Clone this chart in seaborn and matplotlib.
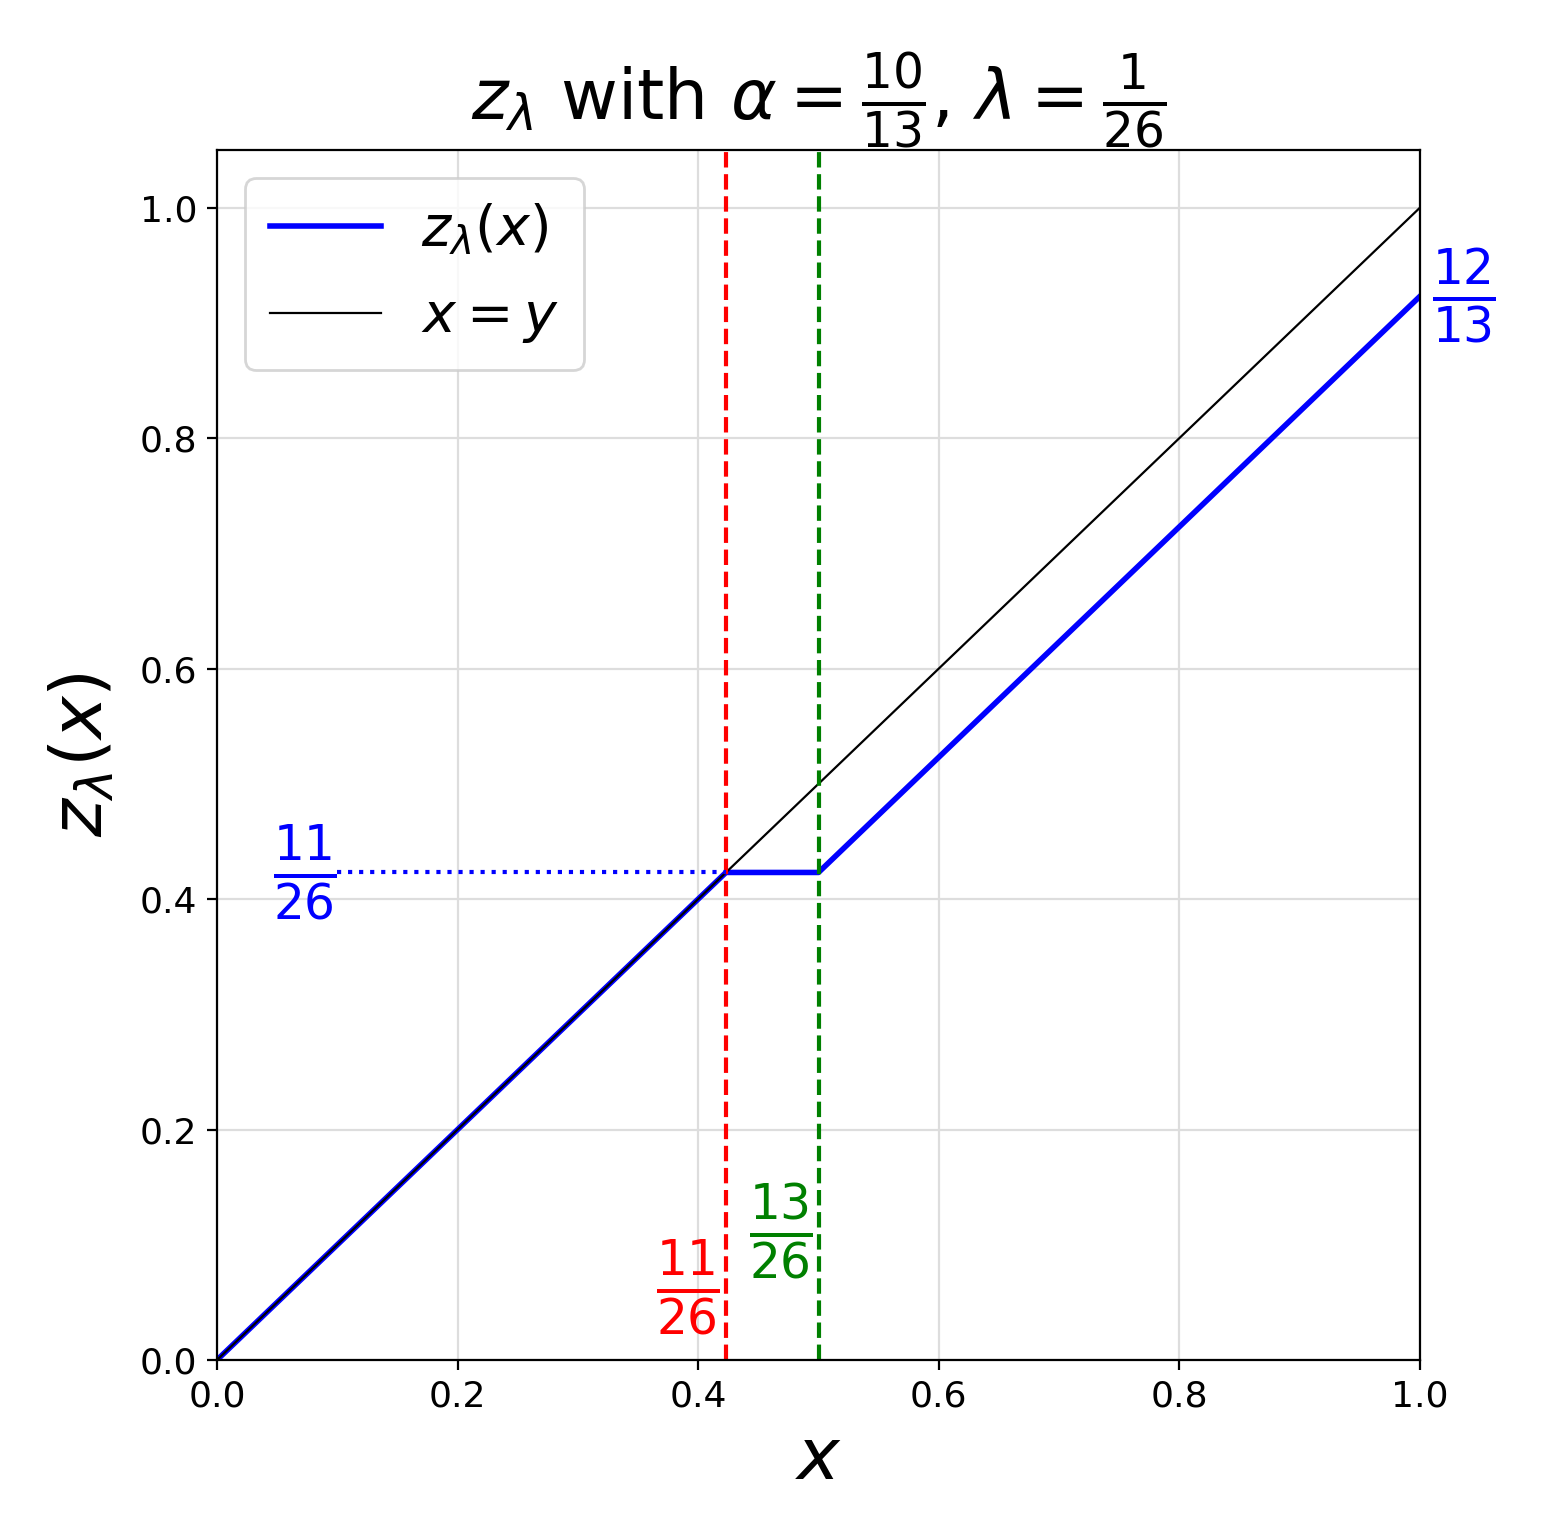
import numpy as np
import pandas as pd
import matplotlib
matplotlib.use("Agg")
import matplotlib.pyplot as plt
import seaborn as sns

# piecewise z_lambda(x) with alpha = 10/13, lambda = 1/26
z_x = [0.0, 11 / 26, 13 / 26, 1.0]
z_y = [0.0, 11 / 26, 11 / 26, 12 / 13]
diag_x = [0.0, 1.0]
diag_y = [0.0, 1.0]
red_x = 11 / 26
green_x = 13 / 26
level_y = 11 / 26
end_y = 12 / 13

z_df = pd.DataFrame({"x": z_x, "z": z_y})
diag_df = pd.DataFrame({"x": diag_x, "y": diag_y})

fig = plt.figure(figsize=(1547 / 200, 1527 / 200), dpi=200)
ax = fig.add_axes([217 / 1547, 1 - 1360 / 1527, 1203 / 1547, 1210 / 1527])

sns.lineplot(data=z_df, x="x", y="z", color="blue", lw=2, ax=ax,
             label=r"$z_\lambda(x)$", sort=False)
sns.lineplot(data=diag_df, x="x", y="y", color="black", lw=0.8, ax=ax,
             label=r"$x = y$")

ax.axvline(red_x, color="red", ls="--", lw=1.5)
ax.axvline(green_x, color="green", ls="--", lw=1.5)
ax.plot([0.1, red_x], [level_y, level_y], color="blue", ls=":", lw=1.5)

ax.text(0.1, level_y, r"$\frac{11}{26}$", color="blue", fontsize=25,
        ha="right", va="center")
ax.text(red_x - 0.005, 0.0625, r"$\frac{11}{26}$", color="red", fontsize=25,
        ha="right", va="center")
ax.text(green_x - 0.005, 0.112, r"$\frac{13}{26}$", color="green", fontsize=25,
        ha="right", va="center")
ax.text(1.01, end_y, r"$\frac{12}{13}$", color="blue", fontsize=25,
        ha="left", va="center", clip_on=False)

ax.set_xlim(0, 1)
ax.set_ylim(0, 1.05)
ax.set_xticks([0, 0.2, 0.4, 0.6, 0.8, 1.0])
ax.set_yticks([0, 0.2, 0.4, 0.6, 0.8, 1.0])
ax.tick_params(labelsize=13)
ax.grid(True, color="#dddddd", lw=0.8)
ax.set_axisbelow(True)

ax.set_xlabel(r"$x$", fontsize=26)
ax.set_ylabel(r"$z_\lambda(x)$", fontsize=26, labelpad=8)
ax.set_title(r"$z_\lambda$ with $\alpha = \frac{10}{13}$, $\lambda = \frac{1}{26}$",
             fontsize=25)
ax.legend(loc="upper left", fontsize=20, borderpad=0.45, labelspacing=0.6,
          handletextpad=0.72)

fig.savefig("out.png", dpi=200)
